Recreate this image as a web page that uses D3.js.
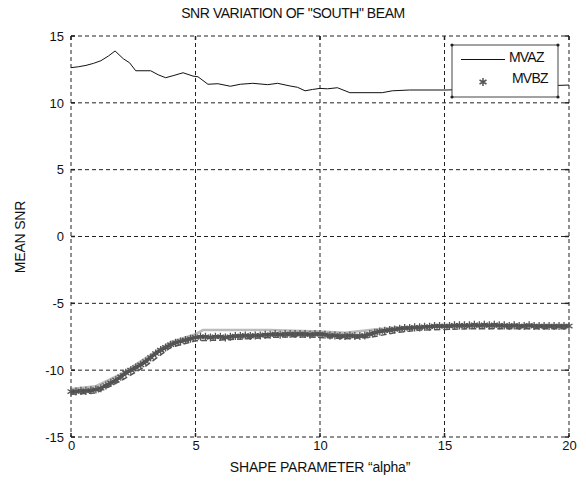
<!DOCTYPE html>
<html><head><meta charset="utf-8">
<script src="https://cdn.jsdelivr.net/npm/d3@7"></script>
<style>body{margin:0;background:#fff}svg{display:block}text{font-family:"Liberation Sans",Arial,sans-serif}</style>
</head><body>
<svg id="c" width="586" height="482"></svg>
<script>
const titleText = 'SNR VARIATION OF "SOUTH" BEAM';
const xLabel = 'SHAPE PARAMETER \u201calpha\u201d';
const yLabel = 'MEAN SNR';
const xTicks = [0, 5, 10, 15, 20];
const yTicks = [-15, -10, -5, 0, 5, 10, 15];
const seriesNames = ["MVAZ", "MVBZ"];

const mvazX = [0,0.3,0.6,0.9,1.2,1.5,1.77,2.1,2.35,2.6,3.2,3.5,3.8,4.1,4.5,4.9,5.1,5.5,5.9,6.4,6.8,7.3,7.9,8.3,8.8,9.1,9.4,9.7,10.0,10.3,10.7,11.2,12.5,12.9,13.6,15.1,16.5,18,19.5,20];
const mvazY = [12.63,12.7,12.8,12.95,13.15,13.5,13.88,13.3,13.0,12.4,12.4,12.1,11.88,12.03,12.25,12.0,11.95,11.39,11.43,11.24,11.39,11.46,11.36,11.46,11.26,11.16,10.9,11.0,11.08,11.05,11.13,10.76,10.76,10.9,10.96,10.96,11.05,11.15,11.3,11.33];

const mvbzX = [0,0.2,0.4,0.6,0.8,1,1.2,1.4,1.6,1.8,2,2.2,2.4,2.6,2.8,3,3.2,3.4,3.6,3.8,4,4.2,4.4,4.6,4.8,5,5.2,5.4,5.6,5.8,6,6.2,6.4,6.6,6.8,7,7.2,7.4,7.6,7.8,8,8.2,8.4,8.6,8.8,9,9.2,9.4,9.6,9.8,10,10.2,10.4,10.6,10.8,11,11.2,11.4,11.6,11.8,12,12.2,12.4,12.6,12.8,13,13.2,13.4,13.6,13.8,14,14.2,14.4,14.6,14.8,15,15.2,15.4,15.6,15.8,16,16.2,16.4,16.6,16.8,17,17.2,17.4,17.6,17.8,18,18.2,18.4,18.6,18.8,19,19.2,19.4,19.6,19.8,20];
const mvbzY = [-11.6,-11.6,-11.55,-11.55,-11.5,-11.45,-11.35,-11.15,-10.95,-10.75,-10.5,-10.2,-10.0,-9.8,-9.6,-9.35,-9.05,-8.75,-8.5,-8.3,-8.1,-7.95,-7.85,-7.75,-7.65,-7.55,-7.5,-7.5,-7.55,-7.5,-7.5,-7.55,-7.5,-7.45,-7.45,-7.4,-7.45,-7.4,-7.4,-7.35,-7.35,-7.3,-7.35,-7.3,-7.3,-7.3,-7.3,-7.3,-7.35,-7.3,-7.3,-7.35,-7.4,-7.4,-7.45,-7.45,-7.4,-7.45,-7.45,-7.4,-7.3,-7.2,-7.1,-7.05,-7.0,-6.95,-6.9,-6.85,-6.85,-6.8,-6.8,-6.75,-6.75,-6.7,-6.7,-6.7,-6.7,-6.65,-6.65,-6.65,-6.65,-6.6,-6.65,-6.6,-6.65,-6.6,-6.65,-6.65,-6.7,-6.65,-6.7,-6.7,-6.65,-6.7,-6.7,-6.7,-6.7,-6.7,-6.7,-6.7,-6.7];

const mvbzLightX = [0,1,2,3,4,5,5.3,6,7,8,9,10,11,12,13,14,15,16,17,18,19,20];
const mvbzLightY = [-11.4,-11.2,-10.3,-9.1,-7.9,-7.3,-7.0,-7.0,-7.0,-7.0,-7.05,-7.1,-7.2,-7.0,-6.8,-6.75,-6.75,-6.75,-6.75,-6.7,-6.7,-6.7];

const mvbzLowX = [0,1,2,3,4,5,6,7,8,9,10,11,12,13,14,15,16,17,18,19,20];
const mvbzLowY = [-11.8,-11.7,-10.8,-9.7,-8.3,-7.8,-7.75,-7.65,-7.55,-7.5,-7.55,-7.65,-7.55,-7.2,-7.0,-6.95,-6.9,-6.9,-6.9,-6.9,-6.9];

const svg = d3.select("#c");
const L = 71, R = 569, T = 36, B = 437;
const x = d3.scaleLinear().domain([0, 20]).range([L, R]);
const y = d3.scaleLinear().domain([-15, 15]).range([B, T]);
const fontF = '"Liberation Sans",Arial,sans-serif';

// dashed grid incl. border
const gridC = "#222";
const g = svg.append("g");
xTicks.forEach(v => g.append("line").attr("x1", x(v)).attr("x2", x(v)).attr("y1", T).attr("y2", B)
  .attr("stroke", gridC).attr("stroke-width", 1).attr("stroke-dasharray", "4,3"));
yTicks.forEach(v => g.append("line").attr("x1", L).attr("x2", R).attr("y1", y(v)).attr("y2", y(v))
  .attr("stroke", gridC).attr("stroke-width", 1).attr("stroke-dasharray", "4,3"));

const xa = d3.axisBottom(x).tickValues(xTicks).tickSize(0).tickPadding(4).tickFormat(d => String(d));
const ya = d3.axisLeft(y).tickValues(yTicks).tickSize(0).tickPadding(7).tickFormat(d => String(d));
const gx = svg.append("g").attr("transform", `translate(0,${B})`).call(xa);
const gy = svg.append("g").attr("transform", `translate(${L},0)`).call(ya);
[gx, gy].forEach(a => { a.select(".domain").remove(); a.selectAll("text").attr("font-size", 13).attr("fill", "#111").attr("font-family", fontF); });
xTicks.forEach(v => {
  svg.append("line").attr("x1", x(v)).attr("x2", x(v)).attr("y1", B).attr("y2", B - 4).attr("stroke", gridC).attr("stroke-width", 1.5);
  svg.append("line").attr("x1", x(v)).attr("x2", x(v)).attr("y1", T).attr("y2", T + 4).attr("stroke", gridC).attr("stroke-width", 1.5);
});
yTicks.forEach(v => {
  svg.append("line").attr("x1", L).attr("x2", L + 4).attr("y1", y(v)).attr("y2", y(v)).attr("stroke", gridC).attr("stroke-width", 1.5);
  svg.append("line").attr("x1", R).attr("x2", R - 4).attr("y1", y(v)).attr("y2", y(v)).attr("stroke", gridC).attr("stroke-width", 1.5);
});

const lineGen = d3.line().x(d => x(d[0])).y(d => y(d[1]));
// MVBZ band
svg.append("path").datum(mvbzLightX.map((v, i) => [v, mvbzLightY[i]]))
  .attr("d", lineGen).attr("fill", "none").attr("stroke", "#bbb").attr("stroke-width", 2.5);
svg.append("path").datum(mvbzLowX.map((v, i) => [v, mvbzLowY[i]]))
  .attr("d", lineGen).attr("fill", "none").attr("stroke", "#555").attr("stroke-width", 1.5).attr("stroke-dasharray", "6,3");
const mvbz = mvbzX.map((v, i) => [v, mvbzY[i]]);
svg.append("path").datum(mvbz).attr("d", lineGen).attr("fill", "none").attr("stroke", "#4a4a4a").attr("stroke-width", 3.5);
const star = d3.symbol().type(d3.symbolAsterisk).size(45);
svg.append("g").selectAll("path").data(mvbz).join("path")
  .attr("transform", d => `translate(${x(d[0])},${y(d[1])})`)
  .attr("d", star).attr("fill", "none").attr("stroke", "#555").attr("stroke-width", 1.3);

// MVAZ line
svg.append("path").datum(mvazX.map((v, i) => [v, mvazY[i]]))
  .attr("d", lineGen).attr("fill", "none").attr("stroke", "#111").attr("stroke-width", 1);

// legend
const lg = svg.append("g");
lg.append("rect").attr("x", 452).attr("y", 45).attr("width", 106).attr("height", 52)
  .attr("fill", "#fff").attr("stroke", "#444").attr("stroke-width", 1);
[[452,45],[558,45],[452,97],[558,97]].forEach(p => lg.append("circle").attr("cx", p[0]).attr("cy", p[1]).attr("r", 1.6).attr("fill", "#222"));
lg.append("line").attr("x1", 461).attr("x2", 505).attr("y1", 59.5).attr("y2", 59.5).attr("stroke", "#111").attr("stroke-width", 1);
lg.append("text").attr("x", 509).attr("y", 62).attr("font-size", 14).attr("letter-spacing", -0.8).attr("fill", "#111").text(seriesNames[0]);
lg.append("path").attr("transform", "translate(483,82)").attr("d", star).attr("fill", "none").attr("stroke", "#555").attr("stroke-width", 1.5);
lg.append("text").attr("x", 512).attr("y", 83).attr("font-size", 14).attr("letter-spacing", -0.8).attr("fill", "#111").text(seriesNames[1]);

// title & labels
svg.append("text").attr("x", 293).attr("y", 18).attr("text-anchor", "middle").attr("font-size", 14).attr("letter-spacing", -0.45).attr("fill", "#111").text(titleText);
svg.append("text").attr("x", 320).attr("y", 472).attr("text-anchor", "middle").attr("font-size", 14).attr("letter-spacing", -0.2).attr("fill", "#111").text(xLabel);
svg.append("text").attr("transform", "translate(25,237) rotate(-90)").attr("text-anchor", "middle").attr("font-size", 14).attr("letter-spacing", -0.2).attr("fill", "#111").text(yLabel);
</script>
</body></html>
